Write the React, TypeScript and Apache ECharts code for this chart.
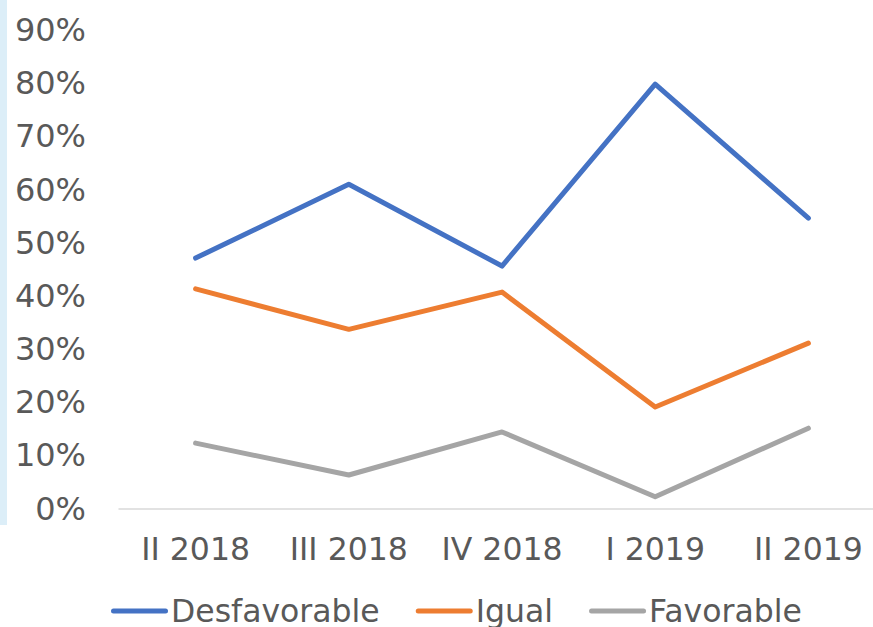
import React, { useEffect, useRef } from "react";
import * as echarts from "echarts";

const categories = ["II 2018", "III 2018", "IV 2018", "I 2019", "II 2019"];
const desfavorable = [47.1, 61.0, 45.6, 79.8, 54.6];
const igual = [41.3, 33.7, 40.7, 19.1, 31.1];
const favorable = [12.3, 6.3, 14.4, 2.2, 15.1];

const FONT = "DejaVu Sans, Verdana, sans-serif";
const TEXT = "#595959";
const capsule = "path://M2.5,0 H54.5 A2.5,2.5 0 0 1 54.5,5 H2.5 A2.5,2.5 0 0 1 2.5,0 Z";

export default function App() {
  const ref = useRef<HTMLDivElement>(null);
  useEffect(() => {
    if (!ref.current) return;
    const chart = echarts.init(ref.current, undefined, { renderer: "svg" });
    const mk = (name: string, data: number[], color: string) => ({
      name,
      type: "line",
      data,
      symbol: "none",
      showSymbol: false,
      lineStyle: { color, width: 5, cap: "round", join: "round" },
      itemStyle: { color },
    });
    chart.setOption({
      animation: false,
      backgroundColor: "#ffffff",
      graphic: [
        { type: "rect", left: 0, top: 0, shape: { x: 0, y: 0, width: 7, height: 525 }, style: { fill: "#DCEEF8" } },
      ],
      grid: { left: 119, top: 30, width: 766, height: 478.5, containLabel: false },
      legend: {
        left: 106,
        top: 590,
        itemWidth: 57,
        itemHeight: 5,
        itemGap: 36,
        icon: capsule,
        textStyle: { color: TEXT, fontSize: 31.5, fontFamily: FONT, padding: [0, 0, 0, -2] },
        data: [
          { name: "Desfavorable", icon: capsule },
          { name: "Igual", icon: capsule },
          { name: "Favorable", icon: capsule },
        ],
      },
      xAxis: {
        type: "category",
        data: categories,
        boundaryGap: true,
        axisLine: { lineStyle: { color: "#D9D9D9", width: 1.5 } },
        axisTick: { show: false },
        axisLabel: { color: TEXT, fontSize: 31.5, fontFamily: FONT, margin: 24, interval: 0 },
      },
      yAxis: {
        type: "value",
        min: 0,
        max: 90,
        interval: 10,
        axisLine: { show: false },
        axisTick: { show: false },
        splitLine: { show: false },
        axisLabel: { color: TEXT, fontSize: 32, fontFamily: FONT, margin: 33, formatter: "{value}%" },
      },
      series: [
        mk("Desfavorable", desfavorable, "#4472C4"),
        mk("Igual", igual, "#ED7D31"),
        mk("Favorable", favorable, "#A5A5A5"),
      ],
    });
    return () => chart.dispose();
  }, []);
  return (
    <div style={{ position: "absolute", left: 0, top: 0, width: 873, height: 627, overflow: "hidden" }}>
      <div ref={ref} style={{ width: 900, height: 627 }} />
    </div>
  );
}
